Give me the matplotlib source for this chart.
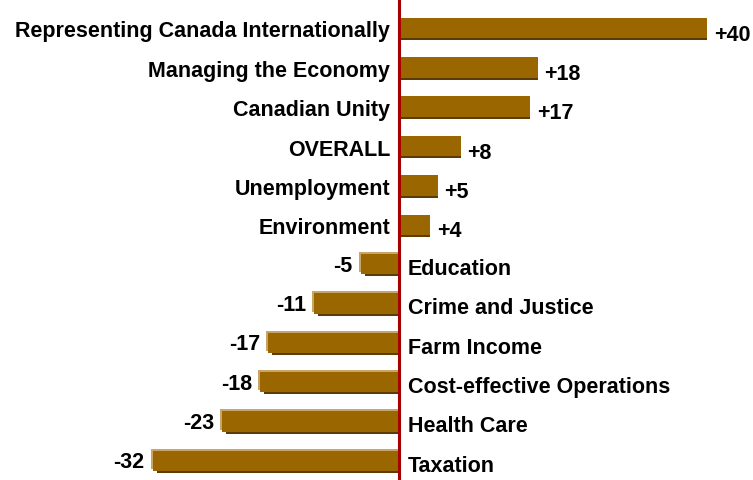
import matplotlib
matplotlib.use("Agg")
import matplotlib.pyplot as plt

categories = [
    "Representing Canada Internationally",
    "Managing the Economy",
    "Canadian Unity",
    "OVERALL",
    "Unemployment",
    "Environment",
    "Education",
    "Crime and Justice",
    "Farm Income",
    "Cost-effective Operations",
    "Health Care",
    "Taxation",
]
values = [40, 18, 17, 8, 5, 4, -5, -11, -17, -18, -23, -32]
value_labels = ["+40", "+18", "+17", "+8", "+5", "+4",
                "-5", "-11", "-17", "-18", "-23", "-32"]

W, H, DPI = 753, 481, 100
fig = plt.figure(figsize=(W / DPI, H / DPI), dpi=DPI)
ax = fig.add_axes([0, 0, 1, 1])

px_per_unit = 7.7
zero_px = 399
row_px = 39.36
first_row_px = 29
ax.set_xlim(-zero_px / px_per_unit, (W - zero_px) / px_per_unit)
ax.set_ylim((H - first_row_px) / row_px, -first_row_px / row_px)
ax.axis("off")

dx = 2 / px_per_unit   # 2px offsets for bevel effect
dy = 2 / row_px
bar_h = 0.52
t = 3 / row_px         # nudge text down to sit on bar centre

bar_col = "#996600"
shadow_col = "#5c3c00"
light_col = "#c9a566"

font = dict(family="Liberation Sans", fontweight="bold", fontsize=15.5, color="black")

ys = list(range(len(categories)))
for y, v, cat, lab in zip(ys, values, categories, value_labels):
    if v >= 0:
        ax.barh(y + dy, v, left=0, height=bar_h, color=shadow_col, zorder=2)
        ax.barh(y, v, height=bar_h, color=bar_col, zorder=3)
        ax.text(-9 / px_per_unit, y + t, cat, ha="right", va="center", **font)
        ax.text(v + 7 / px_per_unit, y + 0.08 + t, lab, ha="left", va="center", **font)
    else:
        ax.barh(y - dy, v - dx, left=0, height=bar_h, color=light_col, zorder=2)
        ax.barh(y + dy, v + dx * 2, left=0, height=bar_h, color=shadow_col, zorder=2)
        ax.barh(y, v, height=bar_h, color=bar_col, zorder=3)
        ax.text(9 / px_per_unit, y + 0.03 + t, cat, ha="left", va="center", **font)
        ax.text(v - 8 / px_per_unit, y - 0.05 + t, lab, ha="right", va="center", **font)

ax.axvline(0, color="#a80000", lw=2.2, zorder=5)

fig.savefig("out.png", dpi=DPI)
